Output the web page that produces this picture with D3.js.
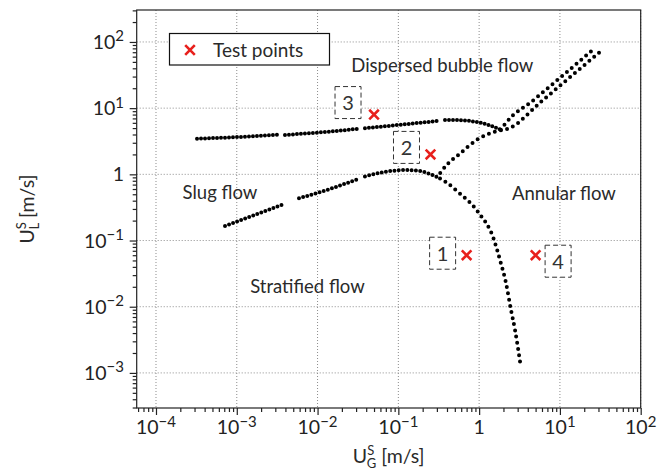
<!DOCTYPE html>
<head>
  <meta charset="UTF-8">
  <title>flow pattern map</title>
  <style>
  body, html, svg{
    padding: 0;
    margin: 0;
  }
  body{
    background: #fff;
  }
  svg{
    display: block;
    font-family: Lato, "Open Sans", sans-serif;
  }
  </style>
</head>
<body>
  <script src="https://cdn.jsdelivr.net/npm/d3@7"></script>
  <script type="text/javascript">
  var width = 670;
  var height = 474;

  //axes
  var xDomain = [5.77e-5, 100];
  var yDomain = [2.95e-4, 304];
  var xMajor = [1e-4, 1e-3, 1e-2, 1e-1, 1, 1e1, 1e2];
  var yMajor = [1e-3, 1e-2, 1e-1, 1, 1e1, 1e2];
  var xTickLabels = ['10^−4', '10^−3', '10^−2', '10^−1', '1', '10^1', '10^2'];
  var yTickLabels = ['10^−3', '10^−2', '10^−1', '1', '10^1', '10^2'];

  //transition curves [U_G, U_L], null = break
  var slugBubble = [
    [3.22e-4, 3.46], [8.24e-4, 3.61], [3.24e-3, 3.98], null,
    [3.95e-3, 3.94], [0.0107, 4.30], [0.0308, 4.85], null,
    [0.0386, 4.97], [0.132, 5.77], [0.310, 6.41], null,
    [0.378, 6.64], [0.580, 6.57], [0.968, 6.12], [1.36, 5.48], [1.85, 4.72]
  ];
  var bubbleUpper = [[1.85, 4.72], [2.09, 5.77], [4.92, 13.8], [11.6, 33.4], [27.2, 81.1]];
  var annularBubble = [
    [0.33, 1.05], [0.397, 1.39], [0.552, 1.96], [0.933, 3.31], [1.57, 4.42],
    [2.41, 5.02], [5.68, 12.1], [13.3, 29.3], [31.3, 70.6]
  ];
  var slugStrat = [
    [7.15e-4, 0.166], [1.59e-3, 0.239], [3.63e-3, 0.345], null,
    [5.89e-3, 0.435], [0.01426, 0.601], [0.0335, 0.873], null,
    [0.0386, 0.929], [0.0684, 1.09], [0.121, 1.16], [0.185, 1.12], [0.261, 0.98], [0.328, 0.867]
  ];
  var stratAnnular = [
    [0.328, 0.867], [0.397, 0.750], [0.548, 0.542], [0.968, 0.270], [1.53, 0.102],
    [1.81, 0.0509], [2.15, 0.0229], [2.48, 0.00895], [2.78, 0.00447], [3.21, 0.00147]
  ];

  //test points
  var testUG = [0.7, 0.25, 0.05, 5];
  var testUL = [0.06, 2, 8, 0.06];
  var testLabels = ['1', '2', '3', '4'];

  //画布
  var svg = d3.select('body')
    .append('svg')
    .attr('width', width)
    .attr('height', height);

  var frame = {left: 136.7, right: 640.7, top: 10, bottom: 408};
  var x = d3.scaleLog().domain(xDomain).range([frame.left, frame.right]);
  var y = d3.scaleLog().domain(yDomain).range([frame.bottom, frame.top]);

  function isMajor(d){
    var l = Math.log10(d);
    return Math.abs(l - Math.round(l)) < 1e-6;
  }

  //grid
  var grid = svg.append('g')
    .attr('stroke', '#8c8c8c')
    .attr('stroke-width', 1)
    .attr('stroke-dasharray', '1,2');
  grid.selectAll('.gx').data(xMajor).enter().append('line')
    .attr('x1', function(d){ return x(d); })
    .attr('x2', function(d){ return x(d); })
    .attr('y1', frame.top).attr('y2', frame.bottom);
  grid.selectAll('.gy').data(yMajor).enter().append('line')
    .attr('y1', function(d){ return y(d); })
    .attr('y2', function(d){ return y(d); })
    .attr('x1', frame.left).attr('x2', frame.right);

  //ticks
  function axisG(axis, tr){
    var g = svg.append('g').attr('transform', tr).call(axis);
    g.select('.domain').remove();
    g.selectAll('.tick line').attr('stroke', '#222').attr('stroke-width', 1.2);
    return g;
  }
  var xMinor = x.ticks().filter(function(d){ return !isMajor(d); });
  var yMinor = y.ticks().filter(function(d){ return !isMajor(d); });
  axisG(d3.axisBottom(x).tickValues(xMinor).tickSize(4).tickFormat(''), 'translate(0,' + frame.bottom + ')');
  axisG(d3.axisBottom(x).tickValues(xMajor).tickSize(7).tickFormat(''), 'translate(0,' + frame.bottom + ')');
  axisG(d3.axisLeft(y).tickValues(yMinor).tickSize(4).tickFormat(''), 'translate(' + frame.left + ',0)');
  axisG(d3.axisLeft(y).tickValues(yMajor).tickSize(7).tickFormat(''), 'translate(' + frame.left + ',0)');

  function powLabel(sel, labels){
    sel.each(function(d, i){
      var parts = labels[i].split('^');
      var t = d3.select(this);
      t.append('tspan').text(parts[0]);
      if(parts[1]) t.append('tspan').attr('dy', -7.5).attr('font-size', 15).text(parts[1]);
    });
  }

  svg.append('g').selectAll('text').data(xMajor).enter().append('text')
    .attr('x', function(d){ return x(d); })
    .attr('y', 434)
    .attr('text-anchor', 'middle')
    .attr('font-size', 19.5)
    .attr('fill', '#222')
    .call(powLabel, xTickLabels);

  svg.append('g').selectAll('text').data(yMajor).enter().append('text')
    .attr('x', 124)
    .attr('y', function(d){ return y(d) + 7; })
    .attr('text-anchor', 'end')
    .attr('font-size', 19.5)
    .attr('fill', '#222')
    .call(powLabel, yTickLabels);

  //frame
  svg.append('rect')
    .attr('x', frame.left).attr('y', frame.top)
    .attr('width', frame.right - frame.left)
    .attr('height', frame.bottom - frame.top)
    .attr('fill', 'none')
    .attr('stroke', '#222')
    .attr('stroke-width', 1.2);

  //curves
  var line = d3.line()
    .defined(function(d){ return d !== null; })
    .x(function(d){ return x(d[0]); })
    .y(function(d){ return y(d[1]); })
    .curve(d3.curveMonotoneX);

  var curves = [
    {data: slugBubble, gap: 4},
    {data: bubbleUpper, gap: 6.3},
    {data: annularBubble, gap: 6.3},
    {data: slugStrat, gap: 4.3},
    {data: stratAnnular, gap: 6.3}
  ];
  svg.append('g').selectAll('path').data(curves).enter().append('path')
    .attr('d', function(c){ return line(c.data); })
    .attr('fill', 'none')
    .attr('stroke', '#000')
    .attr('stroke-width', 4)
    .attr('stroke-linecap', 'round')
    .attr('stroke-dasharray', function(c){ return '0,' + c.gap; });

  //region names
  var regions = [
    {text: 'Dispersed bubble flow', at: [0.35, 35]},
    {text: 'Slug flow', at: [6.19e-4, 0.425]},
    {text: 'Annular flow', at: [11.2, 0.41]},
    {text: 'Stratified flow', at: [7.5e-3, 0.0161]}
  ];
  svg.append('g').selectAll('text').data(regions).enter().append('text')
    .attr('x', function(d){ return x(d.at[0]); })
    .attr('y', function(d){ return y(d.at[1]); })
    .attr('text-anchor', 'middle')
    .attr('font-size', 18.5)
    .attr('fill', '#2a2a2a')
    .text(function(d){ return d.text; });

  //test point tags
  var tagOffset = [[-24, -2], [-24, -7], [-26, -12], [22.5, 6]];
  var tags = svg.append('g').selectAll('g').data(testLabels).enter().append('g')
    .attr('transform', function(d, i){
      return 'translate(' + (x(testUG[i]) + tagOffset[i][0]) + ',' + (y(testUL[i]) + tagOffset[i][1]) + ')';
    });
  tags.append('rect')
    .attr('x', -13).attr('y', -16).attr('width', 26).attr('height', 32)
    .attr('fill', '#fff')
    .attr('stroke', '#333')
    .attr('stroke-width', 1)
    .attr('stroke-dasharray', '5,3');
  tags.append('text')
    .attr('y', 7.5)
    .attr('text-anchor', 'middle')
    .attr('font-size', 20)
    .attr('fill', '#333')
    .text(function(d){ return d; });

  function cross(g, cx, cy, r){
    g.append('path')
      .attr('d', 'M' + (cx - r) + ',' + (cy - r) + 'L' + (cx + r) + ',' + (cy + r) +
                 'M' + (cx - r) + ',' + (cy + r) + 'L' + (cx + r) + ',' + (cy - r))
      .attr('stroke', '#e8201c')
      .attr('stroke-width', 2.6)
      .attr('fill', 'none');
  }
  var marks = svg.append('g');
  testUG.forEach(function(u, i){
    cross(marks, x(u), y(testUL[i]), 4.8);
  });

  //legend
  var legend = svg.append('g');
  legend.append('rect')
    .attr('x', 169.5).attr('y', 33.5).attr('width', 160).attr('height', 31.5)
    .attr('fill', '#fff')
    .attr('stroke', '#111')
    .attr('stroke-width', 1.2);
  cross(legend, 190, 50, 4.8);
  legend.append('text')
    .attr('x', 213).attr('y', 56.5)
    .attr('font-size', 19)
    .attr('fill', '#2a2a2a')
    .text('Test points');

  //axis titles
  function uLabel(t, sup, sub){
    t.append('tspan').text('U');
    t.append('tspan').attr('dy', -8).attr('font-size', 13).text(sup);
    t.append('tspan').attr('dx', -7.5).attr('dy', 12.5).attr('font-size', 13).text(sub);
    t.append('tspan').attr('dy', -4.5).text(' [m/s]');
  }
  var xt = svg.append('text')
    .attr('x', (frame.left + frame.right) / 2)
    .attr('y', 463)
    .attr('text-anchor', 'middle')
    .attr('font-size', 19.5)
    .attr('fill', '#2a2a2a');
  uLabel(xt, 'S', 'G');

  var yt = svg.append('text')
    .attr('transform', 'translate(34,' + ((frame.top + frame.bottom) / 2) + ') rotate(-90)')
    .attr('text-anchor', 'middle')
    .attr('font-size', 19.5)
    .attr('fill', '#2a2a2a');
  uLabel(yt, 'S', 'L');
  </script>
</body>
</html>
